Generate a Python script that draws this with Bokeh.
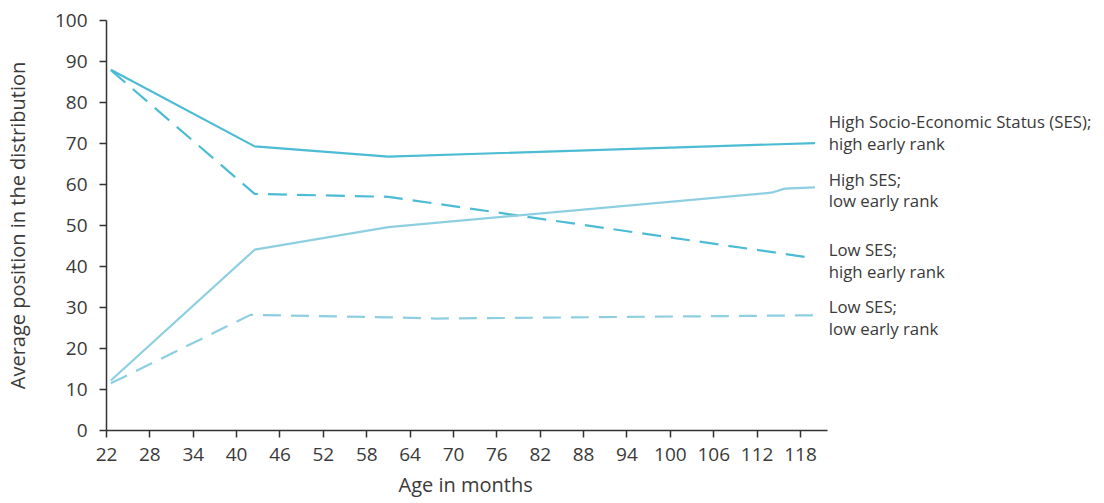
from bokeh.plotting import figure
from bokeh.models import Range1d, FixedTicker, Title
from bokeh.core.properties import value
from bokeh.embed import file_html
from bokeh.resources import INLINE

# Data
hs_he_x = [22.6, 42.5, 61.0, 120.0]
hs_he_y = [88.0, 69.3, 66.8, 70.1]

hs_le_x = [22.6, 42.5, 61.0, 114.0, 115.8, 120.0]
hs_le_y = [12.2, 44.1, 49.6, 58.0, 59.0, 59.3]

ls_he_x = [22.6, 42.5, 61.0, 119.6]
ls_he_y = [87.9, 57.7, 57.0, 42.1]

ls_le_x = [22.6, 41.9, 61.0, 67.7, 120.0]
ls_le_y = [11.5, 28.2, 27.6, 27.3, 28.1]

x_ticks = [22, 28, 34, 40, 46, 52, 58, 64, 70, 76, 82, 88, 94, 100, 106, 112, 118]
y_ticks = [0, 10, 20, 30, 40, 50, 60, 70, 80, 90, 100]

label_text = ["High Socio-Economic Status (SES);", "high early rank",
              "High SES;", "low early rank",
              "Low SES;", "high early rank",
              "Low SES;", "low early rank"]
label_y = [75.3, 70.0, 61.3, 56.1, 44.2, 38.7, 30.3, 24.8]
label_x = [121.9] * len(label_text)

DARK = "#4bbcd3"
LIGHT = "#8dcfe0"
TXT = "#3a3a3a"
FONT = "Open Sans"

X_AXIS_END = 121.8
X_VIEW_END = 22 + 994 / 7.229

p = figure(width=1100, height=503, output_backend="svg", toolbar_location=None,
           x_range=Range1d(22, X_VIEW_END), y_range=Range1d(0, 100))
p.min_border_left = 106
p.min_border_right = 0
p.min_border_top = 20
p.min_border_bottom = 73
p.outline_line_color = None
p.grid.visible = False
p.background_fill_color = "white"
p.border_fill_color = "white"

p.line(hs_he_x, hs_he_y, line_color=DARK, line_width=2.2)
p.line(ls_he_x, ls_he_y, line_color=DARK, line_width=2.2, line_dash="19 10")
p.line(hs_le_x, hs_le_y, line_color=LIGHT, line_width=2.2)
p.line(ls_le_x, ls_le_y, line_color=LIGHT, line_width=2.2, line_dash="18 10")

p.text(x=label_x, y=label_y, text=label_text, text_font=value(FONT),
       text_font_size="16.8px", text_color=TXT, text_baseline="middle",
       text_align="left")

for ax in (p.xaxis[0], p.yaxis[0]):
    ax.axis_line_color = "#333333"
    ax.axis_line_width = 1.5
    ax.major_tick_line_color = "#333333"
    ax.major_tick_line_width = 1.5
    ax.major_tick_out = 7
    ax.major_tick_in = 0
    ax.minor_tick_line_color = None
    ax.major_label_text_font = FONT
    ax.major_label_text_font_size = "19px"
    ax.major_label_text_color = TXT
    ax.axis_label_text_font = FONT
    ax.axis_label_text_font_size = "20px"
    ax.axis_label_text_font_style = "normal"
    ax.axis_label_text_color = TXT

p.xaxis.bounds = (22, X_AXIS_END)
p.xaxis.ticker = FixedTicker(ticks=x_ticks)
p.yaxis.ticker = FixedTicker(ticks=y_ticks)
p.yaxis.axis_label = "Average position in the distribution"
p.xaxis.major_label_standoff = 10
p.yaxis.major_label_standoff = 12
p.yaxis.axis_label_standoff = 21

xt = Title(text="Age in months", align="left", offset=292, standoff=11,
           text_font=FONT, text_font_size="20px", text_font_style="normal",
           text_color=TXT)
p.add_layout(xt, "below")

open("out.html", "w").write(file_html(p, INLINE))
